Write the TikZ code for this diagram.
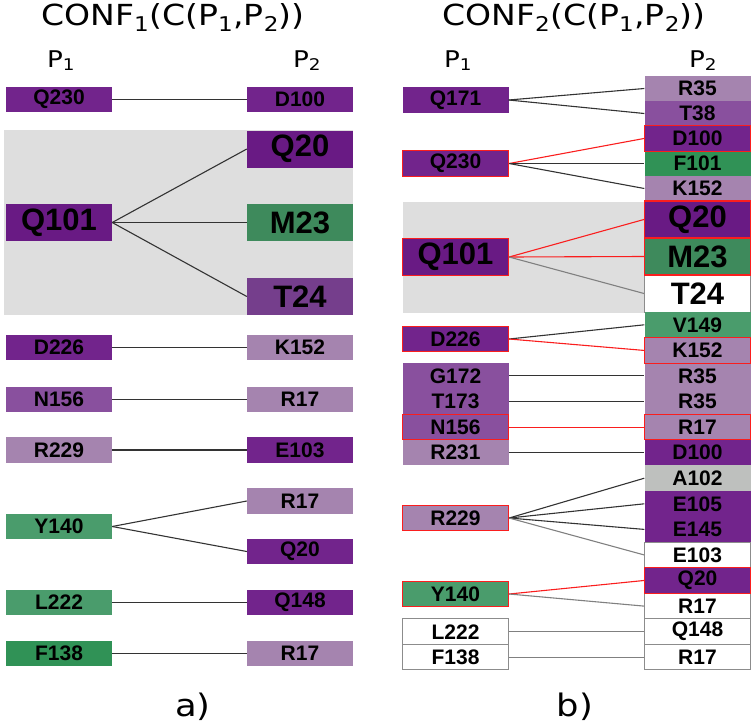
\documentclass[tikz,border=0pt]{standalone}
\usepackage{fontspec}
\setmainfont{Liberation Sans}
\newfontfamily\labelfont[FakeStretch=1.14]{DejaVu Sans}
\usetikzlibrary{shapes}
\definecolor{dkpurple}{RGB}{114,36,140}
\definecolor{deeppurple}{RGB}{105,26,132}
\definecolor{mdpurple}{RGB}{137,80,158}
\definecolor{ltpurple}{RGB}{165,132,175}
\definecolor{tpurple}{RGB}{117,62,140}
\definecolor{mgreen}{RGB}{62,138,92}
\definecolor{ltgreen}{RGB}{74,156,108}
\definecolor{dkgreen}{RGB}{48,146,86}
\definecolor{alagray}{RGB}{190,192,190}
\definecolor{bggray}{RGB}{222,222,222}
\definecolor{hitred}{RGB}{250,30,30}
\begin{document}
\begin{tikzpicture}[x=1pt,y=-1pt]
\tikzstyle{res}=[rectangle, inner sep=0pt, minimum width=106pt, minimum height=25.5pt,
    font=\fontsize{21}{21}\selectfont\bfseries]
\tikzstyle{bigres}=[res, minimum height=37pt, font=\fontsize{31}{31}\selectfont\bfseries]
\tikzstyle{hit}=[draw=hitred, line width=1.2pt]
\tikzstyle{blank}=[fill=white, draw=gray!90, line width=1pt]
\tikzstyle{head}=[font=\labelfont\fontsize{29}{29}\selectfont, anchor=base, inner sep=0pt]
\tikzstyle{side}=[font=\labelfont\fontsize{23}{23}\selectfont, anchor=base, inner sep=0pt]
\tikzstyle{bond}=[black!80, line width=1.1pt]
\tikzstyle{newbond}=[hitred, line width=1.1pt]
\tikzstyle{lostbond}=[gray, line width=1.1pt]

\useasboundingbox (0,0) rectangle (755,726);
\fill[bggray] (4,130) rectangle (353,315);
\fill[bggray] (403,202) rectangle (750,313);

\node[head] (t1) at (173,25) {CONF\textsubscript{1}(C(P\textsubscript{1},P\textsubscript{2}))};
\node[head] (t2) at (574,25) {CONF\textsubscript{2}(C(P\textsubscript{1},P\textsubscript{2}))};
\node[side] (p1) at (61,67) {P\textsubscript{1}};
\node[side] (p2) at (307,67) {P\textsubscript{2}};
\node[side] (p3) at (458,67) {P\textsubscript{1}};
\node[side] (p4) at (703,67) {P\textsubscript{2}};
\node[head, font=\labelfont\fontsize{31}{31}\selectfont] (la) at (193,716) {a)};
\node[head, font=\labelfont\fontsize{31}{31}\selectfont] (lb) at (575,716) {b)};

\node[res, fill=dkpurple] (a1) at (59,99.5) {Q230};
\node[res, fill=dkpurple] (b1) at (300,99.5) {D100};
\node[bigres, fill=deeppurple] (a2) at (59,222.5) {Q101};
\node[bigres, fill=deeppurple] (b2) at (300,149) {Q20};
\node[bigres, fill=mgreen] (b3) at (300,222.5) {M23};
\node[bigres, fill=tpurple] (b4) at (300,296.5) {T24};
\node[res, fill=dkpurple] (a3) at (59,347.5) {D226};
\node[res, fill=ltpurple] (b5) at (300,347.5) {K152};
\node[res, fill=mdpurple] (a4) at (59,399.5) {N156};
\node[res, fill=ltpurple] (b6) at (300,399.5) {R17};
\node[res, fill=ltpurple] (a5) at (59,450) {R229};
\node[res, fill=dkpurple] (b7) at (300,450) {E103};
\node[res, fill=ltgreen] (a6) at (59,526.5) {Y140};
\node[res, fill=ltpurple] (b8) at (300,501) {R17};
\node[res, fill=dkpurple] (b9) at (300,551.5) {Q20};
\node[res, fill=ltgreen] (a7) at (59,602.5) {L222};
\node[res, fill=dkpurple] (b10) at (300,602.5) {Q148};
\node[res, fill=dkgreen] (a8) at (59,653.5) {F138};
\node[res, fill=ltpurple] (b11) at (300,653.5) {R17};

\draw[bond] (a1.east)--(b1.west);
\draw[bond] (a2.east)--(b2.west);
\draw[bond] (a2.east)--(b3.west);
\draw[bond] (a2.east)--(b4.west);
\draw[bond] (a3.east)--(b5.west);
\draw[bond] (a4.east)--(b6.west);
\draw[bond] (a5.east)--(b7.west);
\draw[bond] (a6.east)--(b8.west);
\draw[bond] (a6.east)--(b9.west);
\draw[bond] (a7.east)--(b10.west);
\draw[bond] (a8.east)--(b11.west);

\node[res, fill=dkpurple] (d1) at (455.5,100) {Q171};
\node[res, fill=mdpurple] (d5) at (455.5,375.9) {G172};
\node[res, fill=mdpurple] (d6) at (455.5,401.5) {T173};
\node[res, fill=ltpurple] (d8) at (455.5,452.7) {R231};
\node[res, blank] (d11) at (455.5,631.7) {L222};
\node[res, blank] (d12) at (455.5,657.2) {F138};
\node[res, hit, fill=dkpurple] (d2) at (455.5,163.5) {Q230};
\node[bigres, hit, fill=deeppurple] (d3) at (455.5,257) {Q101};
\node[res, hit, fill=dkpurple] (d4) at (455.5,339) {D226};
\node[res, hit, fill=mdpurple] (d7) at (455.5,427.1) {N156};
\node[res, hit, fill=ltpurple] (d9) at (455.5,518) {R229};
\node[res, hit, fill=ltgreen] (d10) at (455.5,594) {Y140};

\node[res, fill=ltpurple] (c1) at (697.5,88.5) {R35};
\node[res, fill=mdpurple] (c2) at (697.5,113.5) {T38};
\node[res, fill=dkgreen] (c4) at (697.5,163.5) {F101};
\node[res, fill=ltpurple] (c5) at (697.5,188.5) {K152};
\node[bigres, blank] (c8) at (697.5,293.5) {T24};
\node[res, fill=ltgreen] (c9) at (697.5,324.8) {V149};
\node[res, fill=ltpurple] (c11) at (697.5,375.9) {R35};
\node[res, fill=ltpurple] (c12) at (697.5,401.5) {R35};
\node[res, fill=dkpurple] (c14) at (697.5,452.7) {D100};
\node[res, fill=alagray] (c15) at (697.5,478.2) {A102};
\node[res, fill=dkpurple] (c16) at (697.5,503.8) {E105};
\node[res, fill=dkpurple] (c17) at (697.5,529.4) {E145};
\node[res, blank] (c18) at (697.5,554.9) {E103};
\node[res, blank] (c20) at (697.5,606.1) {R17};
\node[res, blank] (c21) at (697.5,631.7) {Q148};
\node[res, blank] (c22) at (697.5,657.2) {R17};
\node[res, hit, fill=dkpurple] (c3) at (697.5,138.5) {D100};
\node[bigres, hit, fill=deeppurple] (c6) at (697.5,219.5) {Q20};
\node[bigres, hit, fill=mgreen] (c7) at (697.5,256.5) {M23};
\node[res, hit, fill=ltpurple] (c10) at (697.5,350.4) {K152};
\node[res, hit, fill=ltpurple] (c13) at (697.5,427.1) {R17};
\node[res, hit, fill=dkpurple] (c19) at (697.5,580.5) {Q20};

\draw[bond] (d1.east)--(c1.west);
\draw[bond] (d1.east)--(c2.west);
\draw[newbond] (d2.east)--(c3.west);
\draw[bond] (d2.east)--(c4.west);
\draw[bond] (d2.east)--(c5.west);
\draw[newbond] (d3.east)--(c6.west);
\draw[newbond] (d3.east)--(c7.west);
\draw[lostbond] (d3.east)--(c8.west);
\draw[bond] (d4.east)--(c9.west);
\draw[newbond] (d4.east)--(c10.west);
\draw[bond] (d5.east)--(c11.west);
\draw[bond] (d6.east)--(c12.west);
\draw[newbond] (d7.east)--(c13.west);
\draw[bond] (d8.east)--(c14.west);
\draw[bond] (d9.east)--(c15.west);
\draw[bond] (d9.east)--(c16.west);
\draw[bond] (d9.east)--(c17.west);
\draw[lostbond] (d9.east)--(c18.west);
\draw[newbond] (d10.east)--(c19.west);
\draw[lostbond] (d10.east)--(c20.west);
\draw[lostbond] (d11.east)--(c21.west);
\draw[lostbond] (d12.east)--(c22.west);
\end{tikzpicture}
\end{document}
